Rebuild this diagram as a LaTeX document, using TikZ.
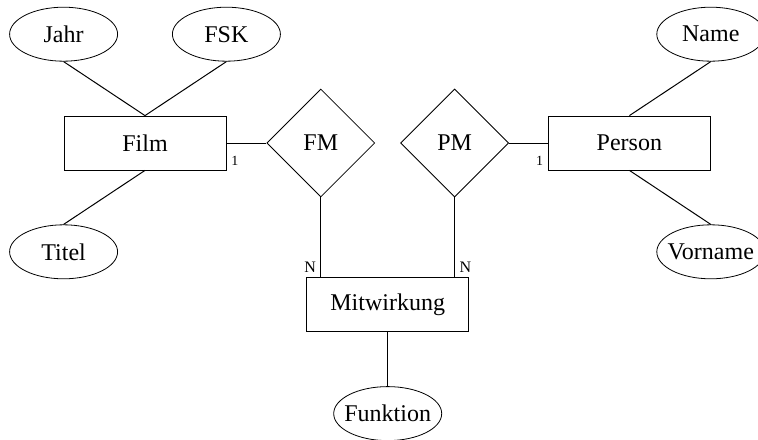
\documentclass[tikz,border=0pt]{standalone}
\usepackage{fontspec}
\setmainfont{Liberation Serif}
\usepackage{tikz}
\usetikzlibrary{positioning, shapes.geometric, calc}

\begin{document}
\begin{tikzpicture}[
    x=0.5pt, y=-0.5pt,
    entity/.style={rectangle, draw=black, fill=white, minimum width=81pt, minimum height=27pt, inner sep=0pt, font=\fontsize{12}{14}\selectfont},
    attr/.style={ellipse, draw=black, fill=white, minimum width=54pt, minimum height=27pt, inner xsep=-6pt, inner ysep=0pt, font=\fontsize{12}{14}\selectfont},
    rel/.style={diamond, draw=black, fill=white, aspect=1, minimum width=54pt, minimum height=54pt, inner sep=0pt, font=\fontsize{12}{14}\selectfont},
    card/.style={font=\fontsize{7}{8}\selectfont, inner sep=2.3pt},
    line/.style={draw=black, line width=0.5pt}
]
    \useasboundingbox (0,0) rectangle (758,439);

    % Entities and relations
    \node[entity] (Film) at (145,143) {Film};
    \node[rel, right=20pt of Film] (FM) {FM};
    \node[rel, right=12.5pt of FM] (PM) {PM};
    \node[entity, right=19.5pt of PM] (Person) {Person};
    \coordinate (mid) at ($(FM.south)!0.5!(PM.south)$);
    \node[entity, below=40pt of mid] (Mitwirkung) {Mitwirkung};

    % Attributes
    \node[attr, above=27pt of Film.north west] (Jahr) {Jahr};
    \node[attr, above=27pt of Film.north east] (FSK) {FSK};
    \node[attr, below=27pt of Film.south west] (Titel) {Titel};
    \node[attr, above=27pt of Person.north east] (Name) {Name};
    \node[attr, below=27pt of Person.south east] (Vorname) {Vorname};
    \node[attr, below=27pt of Mitwirkung] (Funktion) {Funktion};

    % Connectors
    \draw[line] (Jahr.south) -- (Film.north);
    \draw[line] (FSK.south) -- (Film.north);
    \draw[line] (Titel.north) -- (Film.south);
    \draw[line] (Name.south) -- (Person.north);
    \draw[line] (Vorname.north) -- (Person.south);
    \draw[line] (Mitwirkung) -- (Funktion);

    \draw[line] (Film.east) -- (FM.west);
    \draw[line] (PM.east) -- (Person.west);
    \draw[line] (FM.south) -- (FM.south |- Mitwirkung.north) coordinate (fmend);
    \draw[line] (PM.south) -- (PM.south |- Mitwirkung.north) coordinate (pmend);

    % Cardinalities
    \node[card, anchor=south west] (c1) at (Film.south east) {1};
    \node[card, anchor=south east] (c2) at (Person.south west) {1};
    \node[card, anchor=south east, font=\fontsize{8}{9}\selectfont] (c3) at (fmend) {N};
    \node[card, anchor=south west, font=\fontsize{8}{9}\selectfont] (c4) at (pmend) {N};
\end{tikzpicture}
\end{document}
